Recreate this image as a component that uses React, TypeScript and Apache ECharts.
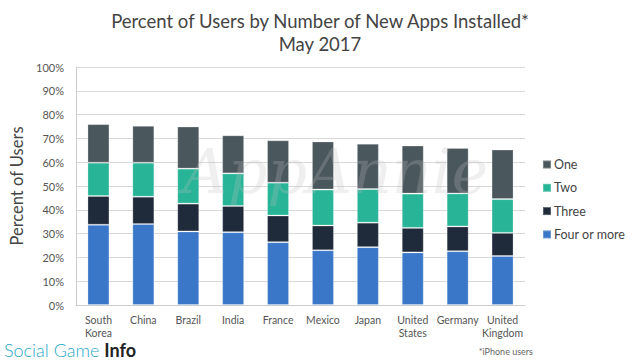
import React, { useEffect, useRef } from "react";
import * as echarts from "echarts";

const categories = [
  "South\nKorea",
  "China",
  "Brazil",
  "India",
  "France",
  "Mexico",
  "Japan",
  "United\nStates",
  "Germany",
  "United\nKingdom",
];
const fourOrMore = [33.7, 34.0, 30.9, 30.6, 26.4, 23.0, 24.3, 22.1, 22.6, 20.6];
const three = [12.1, 11.5, 11.7, 11.0, 11.2, 10.4, 10.3, 10.3, 10.4, 9.7];
const two = [14.0, 14.3, 14.7, 13.7, 13.8, 15.1, 14.1, 14.4, 13.9, 14.2];
const one = [16.2, 15.5, 17.7, 16.0, 17.8, 20.2, 19.1, 20.2, 19.1, 20.8];
const legendOrder = ["One", "Two", "Three", "Four or more"];

const FONT = "Lato, 'Open Sans', sans-serif";

export default function App() {
  const ref = useRef<HTMLDivElement>(null);
  useEffect(() => {
    document.body.style.margin = "0";
    const chart = echarts.init(ref.current!, undefined, { renderer: "svg" });
    const mk = (name: string, data: number[], color: string) => ({
      name,
      type: "bar",
      stack: "total",
      data,
      barWidth: 22,
      itemStyle: { color, borderColor: "rgba(255,255,255,0.25)", borderWidth: 1 },
    });
    chart.setOption({
      animation: false,
      textStyle: { fontFamily: FONT },
      title: {
        text: "Percent of Users by Number of New Apps Installed*\nMay 2017",
        left: "center",
        top: 4,
        textStyle: { fontFamily: FONT, fontSize: 18.5, fontWeight: "normal", color: "#444", lineHeight: 23 },
      },
      legend: {
        data: legendOrder,
        orient: "vertical",
        left: 537,
        top: 153,
        itemWidth: 8,
        itemHeight: 8,
        itemGap: 10.3,
        icon: "rect",
        textStyle: { fontFamily: FONT, fontSize: 12.5, color: "#444", lineHeight: 12, padding: [0, 0, 0, -2] },
      },
      grid: { left: 76, right: 115, top: 67, bottom: 58 },
      xAxis: {
        type: "category",
        data: categories,
        axisLine: { lineStyle: { color: "#cccccc" } },
        axisTick: { show: false },
        axisLabel: { interval: 0, fontFamily: FONT, fontSize: 10.5, color: "#555", lineHeight: 13, margin: 8 },
      },
      yAxis: {
        type: "value",
        min: 0,
        max: 100,
        interval: 10,
        name: "Percent of Users",
        nameLocation: "middle",
        nameGap: 46,
        nameTextStyle: { fontFamily: FONT, fontSize: 16.5, color: "#444" },
        axisLine: { show: true, lineStyle: { color: "#cccccc" } },
        axisTick: { show: false },
        axisLabel: { formatter: "{value}%", fontFamily: FONT, fontSize: 11, color: "#555", margin: 12 },
        splitLine: { lineStyle: { color: "#d9d9d9", width: 1 } },
      },
      series: [
        mk("Four or more", fourOrMore, "#3a77c8"),
        mk("Three", three, "#1f2a3b"),
        mk("Two", two, "#27b497"),
        mk("One", one, "#4a575c"),
      ],
      graphic: [
        {
          type: "text",
          left: 183,
          top: 140,
          z: 100,
          silent: true,
          style: {
            text: "AppAnnie",
            font: "italic 62px 'DejaVu Serif', serif",
            fill: "rgba(190,190,190,0.25)",
          },
        },
        {
          type: "text",
          left: 4,
          top: 341,
          style: {
            text: "{a|Social Game }{b|Info}",
            rich: {
              a: { fontFamily: FONT, fontSize: 18, fontWeight: 300, fill: "#29a7c8" },
              b: { fontFamily: FONT, fontSize: 18, fontWeight: "bold", fill: "#222" },
            },
          },
        },
        {
          type: "text",
          right: 107,
          top: 347,
          style: { text: "*iPhone users", fontFamily: FONT, fontSize: 9, fill: "#666" },
        },
      ],
    });
    return () => chart.dispose();
  }, []);
  return <div ref={ref} style={{ width: 640, height: 363 }} />;
}
